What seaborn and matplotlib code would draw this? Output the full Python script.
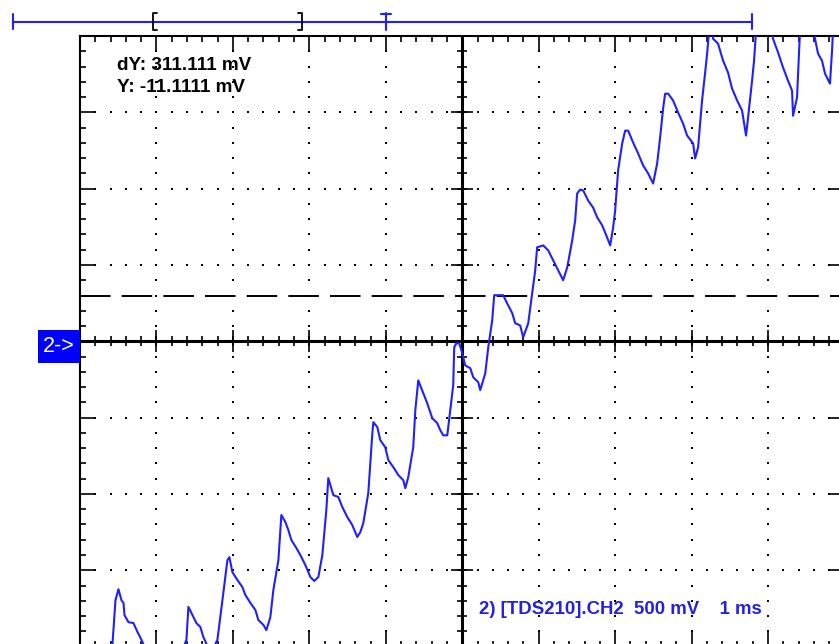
import numpy as np
import pandas as pd
import seaborn as sns
import matplotlib
matplotlib.use("Agg")
import matplotlib.pyplot as plt
from matplotlib.patches import Rectangle
from matplotlib.ticker import MultipleLocator

# CH2 trace, time in ms, level in V (1 ms/div, 500 mV/div)
time_ms = [
    -4.667, -4.575, -4.536, -4.497, -4.458, -4.431, -4.418, -4.366, -4.301, -4.248,
    -4.196, -4.078, -3.882, -3.686, -3.608, -3.582, -3.529, -3.477, -3.425, -3.386,
    -3.346, -3.281, -3.203, -3.137, -3.072, -3.046, -3.007, -2.941, -2.876, -2.837,
    -2.771, -2.706, -2.667, -2.601, -2.562, -2.510, -2.471, -2.405, -2.366, -2.314,
    -2.275, -2.235, -2.170, -2.118, -2.052, -1.987, -1.935, -1.882, -1.830, -1.778,
    -1.752, -1.686, -1.621, -1.569, -1.503, -1.438, -1.373, -1.333, -1.294, -1.229,
    -1.176, -1.163, -1.111, -1.072, -1.007, -0.967, -0.902, -0.837, -0.771, -0.745,
    -0.706, -0.641, -0.614, -0.575, -0.510, -0.458, -0.392, -0.327, -0.288, -0.248,
    -0.196, -0.157, -0.118, -0.105, -0.078, -0.039, 0.000, 0.039, 0.105, 0.144,
    0.209, 0.235, 0.301, 0.340, 0.392, 0.418, 0.536, 0.588, 0.654, 0.693,
    0.758, 0.797, 0.863, 0.915, 0.954, 0.980, 1.059, 1.124, 1.190, 1.255,
    1.320, 1.373, 1.438, 1.477, 1.503, 1.542, 1.582, 1.647, 1.712, 1.765,
    1.830, 1.895, 1.935, 1.974, 2.000, 2.039, 2.092, 2.131, 2.170, 2.235,
    2.301, 2.366, 2.431, 2.497, 2.549, 2.588, 2.627, 2.654, 2.693, 2.758,
    2.824, 2.889, 2.941, 3.020, 3.046, 3.085, 3.137, 3.176, 3.203, 3.229,
    3.268, 3.281, 3.346, 3.412, 3.477, 3.529, 3.595, 3.660, 3.712, 3.739,
    3.791, 3.817, 3.843, 4.052, 4.065, 4.131, 4.196, 4.261, 4.314, 4.327,
    4.379, 4.418, 4.601, 4.614, 4.654, 4.706, 4.745, 4.810, 4.837, 4.850,
    4.928,
]
ch2_volts = [
    -2.154, -1.982, -1.696, -1.624, -1.696, -1.714, -1.794, -1.840, -1.846, -1.904,
    -1.956, -2.088, -2.140, -2.054, -1.956, -1.740, -1.794, -1.846, -1.872, -1.938,
    -1.982, -2.036, -1.956, -1.696, -1.434, -1.414, -1.512, -1.564, -1.610, -1.662,
    -1.714, -1.760, -1.826, -1.858, -1.892, -1.806, -1.630, -1.434, -1.138, -1.184,
    -1.236, -1.302, -1.354, -1.400, -1.466, -1.544, -1.570, -1.544, -1.400, -1.106,
    -0.896, -1.008, -1.020, -1.086, -1.152, -1.204, -1.282, -1.250, -1.190, -0.994,
    -0.602, -0.530, -0.562, -0.648, -0.694, -0.778, -0.824, -0.876, -0.910, -0.962,
    -0.890, -0.694, -0.452, -0.256, -0.340, -0.406, -0.504, -0.536, -0.582, -0.616,
    -0.616, -0.452, -0.288, -0.040, -0.013, -0.013, -0.078, -0.158, -0.176, -0.236,
    -0.268, -0.320, -0.210, -0.040, 0.138, 0.302, 0.302, 0.248, 0.184, 0.118,
    0.104, 0.026, 0.118, 0.314, 0.464, 0.616, 0.628, 0.596, 0.530, 0.464,
    0.400, 0.484, 0.660, 0.792, 0.968, 0.994, 0.988, 0.922, 0.876, 0.812,
    0.760, 0.680, 0.628, 0.746, 0.858, 1.120, 1.296, 1.380, 1.380, 1.302,
    1.230, 1.152, 1.100, 1.034, 1.164, 1.334, 1.524, 1.622, 1.622, 1.578,
    1.498, 1.426, 1.348, 1.296, 1.198, 1.270, 1.578, 1.754, 1.884, 2.036,
    2.036, 1.982, 1.950, 1.838, 1.760, 1.656, 1.578, 1.512, 1.348, 1.466,
    1.708, 1.838, 2.036, 2.036, 1.982, 1.892, 1.794, 1.708, 1.642, 1.478,
    1.596, 2.036, 2.036, 1.982, 1.884, 1.838, 1.754, 1.688, 1.904, 2.036,
    2.036,
]

cursor_level = 0.300  # V
cursor_dy_text = "dY: 311.111 mV"
cursor_y_text = "Y: -11.1111 mV"
channel_text = "2) [TDS210].CH2  500 mV    1 ms"
ground_text = "2->"

# overview bar above the screen, in ms
record_start = -5.88
record_end = 3.79
window_left = -4.04
window_right = -2.10
trigger_pos = -1.00

trace_blue = "#1f1fff"
label_blue = "#2121e0"

df = pd.DataFrame({"time_ms": time_ms, "ch2_volts": ch2_volts})

sns.set_style("white")
plt.rcParams["font.family"] = ["Liberation Sans", "DejaVu Sans"]
plt.rcParams["lines.scale_dashes"] = False

W, H = 839, 644
fig = plt.figure(figsize=(W / 100, H / 100), dpi=100)
fig.patch.set_facecolor("white")

# scope screen: 10 x 8 divisions, right and bottom edges run off the picture
ax = fig.add_axes([80 / W, 1 - 646.6 / H, 764.5 / W, 610.6 / H])
ax.set_xlim(-5, 5)
ax.set_ylim(-2, 2)
ax.set_facecolor("white")
for s in ax.spines.values():
    s.set_color("black")
    s.set_linewidth(1.5)

ax.xaxis.set_major_locator(MultipleLocator(1))
ax.xaxis.set_minor_locator(MultipleLocator(0.2))
ax.yaxis.set_major_locator(MultipleLocator(0.5))
ax.yaxis.set_minor_locator(MultipleLocator(0.1))
ax.tick_params(which="both", direction="in", top=True, right=True, bottom=True, left=True,
               labelbottom=False, labelleft=False, color="black", width=1.2)
ax.tick_params(which="major", length=11)
ax.tick_params(which="minor", length=4.5)

# dotted graticule
minor_x = np.arange(-5, 5.001, 0.2)
minor_y = np.arange(-2, 2.001, 0.1)
for gx in range(-4, 5):
    if gx != 0:
        ax.scatter(np.full_like(minor_y, gx), minor_y, s=2.2, marker="s", color="black", lw=0, zorder=1)
for gy in [-1.5, -1.0, -0.5, 0.5, 1.0, 1.5]:
    ax.scatter(minor_x, np.full_like(minor_x, gy), s=2.2, marker="s", color="black", lw=0, zorder=1)

# centre cross with tick marks
ax.axhline(0, color="black", lw=2.2, zorder=2)
ax.axvline(0, color="black", lw=2.2, zorder=2)
ax.plot(minor_x, np.zeros_like(minor_x), ls="none", marker="|", ms=7, mew=1.2, color="black", zorder=2)
ax.plot(np.arange(-4, 5), np.zeros(9), ls="none", marker="|", ms=16, mew=1.2, color="black", zorder=2)
ax.plot(np.zeros_like(minor_y), minor_y, ls="none", marker="_", ms=7, mew=1.2, color="black", zorder=2)
ax.plot(np.zeros(9), np.arange(-2, 2.01, 0.5), ls="none", marker="_", ms=16, mew=1.2, color="black", zorder=2)

# cursor
ax.axhline(cursor_level, color="black", lw=1.4, ls=(0, (22, 8)), zorder=3)

sns.lineplot(data=df, x="time_ms", y="ch2_volts", ax=ax, color=trace_blue, lw=1.5,
             estimator=None, sort=False, legend=False, zorder=4)
ax.set_xlabel("")
ax.set_ylabel("")

# readouts
fig.text(117 / W, 1 - 65 / H, cursor_dy_text, fontsize=13.6, fontweight="bold", color="black", va="center")
fig.text(117 / W, 1 - 88 / H, cursor_y_text, fontsize=13.6, fontweight="bold", color="black", va="center")
fig.text(479 / W, 1 - 610 / H, channel_text, fontsize=13.4, fontweight="bold", color=label_blue, va="center")

# channel ground marker
fig.patches.append(Rectangle((38 / W, 1 - 363 / H), 42 / W, 33 / H, transform=fig.transFigure,
                             facecolor="#0000ff", edgecolor="none"))
fig.text(59 / W, 1 - 346 / H, ground_text, fontsize=15.5, color="white", ha="center", va="center")

# overview bar
bar = fig.add_axes([80 / W, 1 - 30 / H, 764.5 / W, 17 / H])
bar.set_xlim(-5, 5)
bar.set_ylim(0, 1)
bar.axis("off")
bar.plot([record_start, record_end], [0.5, 0.5], color=trace_blue, lw=1.5, clip_on=False)
bar.plot([record_start, record_start], [0.05, 0.95], color=trace_blue, lw=1.5, clip_on=False)
bar.plot([record_end, record_end], [0.05, 0.95], color=trace_blue, lw=1.5, clip_on=False)
bar.plot([window_left + 0.05, window_left, window_left, window_left + 0.05], [1, 1, 0, 0],
         color="black", lw=1.3, clip_on=False)
bar.plot([window_right - 0.05, window_right, window_right, window_right - 0.05], [1, 1, 0, 0],
         color="black", lw=1.3, clip_on=False)
bar.plot([trigger_pos, trigger_pos], [0, 1], color=trace_blue, lw=1.5, clip_on=False)
bar.plot([trigger_pos - 0.065, trigger_pos + 0.065], [0.95, 0.95], color=trace_blue, lw=1.5, clip_on=False)

fig.savefig("out.png", dpi=100)
